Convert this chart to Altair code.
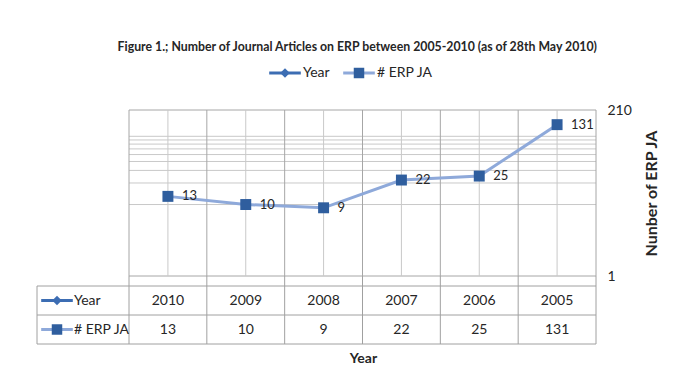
import altair as alt
import pandas as pd

# ---------------- data ----------------
years = ["2010", "2009", "2008", "2007", "2006", "2005"]
erp_ja = [13, 10, 9, 22, 25, 131]
series_names = ["Year", "# ERP JA"]
y_ticks = [1, 210]
y_minor = [10, 20, 30, 40, 50, 60, 70, 80, 90]
chart_title = "Figure 1.; Number of Journal Articles on ERP between 2005-2010 (as of 28th May 2010)"
y_title = "Nunber of ERP JA"
x_title = "Year"

# ---------------- style ----------------
FONT = "Lato"
LINE_LIGHT = "#8EA9DA"
MARKER_DARK = "#2F5E9E"
YEAR_BLUE = "#3C6DB3"
GRID_MAJOR = "#A6A6A6"
GRID_MINOR = "#C9C9C9"
TABLE_LINE = "#A0A0A0"
TEXT = "#262626"

n = len(years)
LEG = 92 / 77.83          # width of the table's legend column, in category units
W = 559
PLOT_H = 166
STRIP = 10 / 29           # strip between plot and table, in table-row units
TABLE_H = 68

xscale = alt.Scale(domain=[-LEG, n], nice=False, zero=False)
yscale = alt.Scale(type="log", domain=[y_ticks[0], y_ticks[-1]], nice=False)

pos = [i + 0.5 for i in range(n)]
pts = pd.DataFrame({"year": years, "val": erp_ja, "pos": pos})

# ---------------- plot area ----------------
hgrid = pd.DataFrame({
    "v": y_ticks + y_minor,
    "kind": ["major"] * len(y_ticks) + ["minor"] * len(y_minor),
    "x0": 0, "x1": n,
})
vgrid = pd.DataFrame({
    "x": list(range(n + 1)) + pos,
    "kind": ["major"] * (n + 1) + ["minor"] * n,
    "y0": y_ticks[0], "y1": y_ticks[-1],
})
grid_color = alt.Color("kind:N", scale=alt.Scale(domain=["major", "minor"], range=[GRID_MAJOR, GRID_MINOR]), legend=None)

yaxis = alt.Axis(orient="right", values=y_ticks, ticks=False, domain=False, grid=False,
                 labelPadding=11, labelFontSize=14, labelColor=TEXT, labelFlush=False,
                 labelOverlap=False, format="d",
                 title=y_title, titleAngle=270, titleFontWeight="bold", titleFontSize=16,
                 titlePadding=28, titleColor=TEXT)

h_rules = alt.Chart(hgrid).mark_rule(strokeWidth=1).encode(
    x=alt.X("x0:Q", scale=xscale, axis=None), x2="x1:Q",
    y=alt.Y("v:Q", scale=yscale, axis=yaxis), color=grid_color)
v_rules = alt.Chart(vgrid).mark_rule(strokeWidth=1).encode(
    x=alt.X("x:Q", scale=xscale, axis=None),
    y=alt.Y("y0:Q", scale=yscale, axis=None), y2="y1:Q", color=grid_color)

line = alt.Chart(pts).mark_line(color=LINE_LIGHT, strokeWidth=3).encode(
    x=alt.X("pos:Q", scale=xscale, axis=None),
    y=alt.Y("val:Q", scale=yscale, axis=None))
points = alt.Chart(pts).mark_point(shape="square", filled=True, size=120, color=MARKER_DARK, opacity=1).encode(
    x=alt.X("pos:Q", scale=xscale, axis=None),
    y=alt.Y("val:Q", scale=yscale, axis=None))
labels = alt.Chart(pts).mark_text(align="left", baseline="middle", dx=14, fontSize=13, color=TEXT).encode(
    x=alt.X("pos:Q", scale=xscale, axis=None),
    y=alt.Y("val:Q", scale=yscale, axis=None),
    text="val:Q")

plot = alt.layer(h_rules, v_rules, line, points, labels).resolve_axis(
    x="independent", y="independent").properties(width=W, height=PLOT_H)

# ---------------- top legend ----------------
ser = pd.DataFrame({"name": series_names, "row": [i + 0.5 for i in range(len(series_names))], "x0": -LEG})
line_colors = alt.Scale(domain=series_names, range=[YEAR_BLUE, LINE_LIGHT])
marker_colors = alt.Scale(domain=series_names, range=[YEAR_BLUE, MARKER_DARK])
marker_shapes = alt.Scale(domain=series_names, range=["diamond", "square"])
marker_sizes = alt.Scale(domain=series_names, range=[90, 110])

lx = alt.X("name:N", scale=alt.Scale(type="point", domain=series_names, range=[248, 322], padding=0), axis=None)
leg_seg = alt.Chart(ser).mark_point(shape="stroke", size=1000, strokeWidth=3, filled=False, opacity=1).encode(
    x=lx, y=alt.value(10), color=alt.Color("name:N", scale=line_colors, legend=None))
leg_mark = alt.Chart(ser).mark_point(filled=True, opacity=1).encode(
    x=lx, y=alt.value(10),
    color=alt.Color("name:N", scale=marker_colors, legend=None),
    shape=alt.Shape("name:N", scale=marker_shapes, legend=None),
    size=alt.Size("name:N", scale=marker_sizes, legend=None))
leg_txt = alt.Chart(ser).mark_text(align="left", baseline="middle", dx=18, fontSize=14, color=TEXT).encode(
    x=lx, y=alt.value(10), text="name:N")
legend = alt.layer(leg_seg, leg_mark, leg_txt).resolve_scale(color="independent").properties(width=W, height=20)

# ---------------- data table ----------------
tscale = alt.Scale(domain=[-STRIP, 2], reverse=True, nice=False, zero=False)
rows = [0.5, 1.5]
cells = pd.DataFrame({
    "pos": pos * 2,
    "row": [rows[0]] * n + [rows[1]] * n,
    "txt": years + [str(v) for v in erp_ja],
})
t_h = pd.DataFrame({"r": [0, 1, 2], "x0": -LEG, "x1": n})
t_v = pd.DataFrame({
    "x": [-LEG] + list(range(n + 1)) + list(range(n + 1)),
    "y0": [0] * (n + 2) + [-STRIP] * (n + 1),
    "y1": [2] * (n + 2) + [0] * (n + 1),
})
xaxis = alt.Axis(title=x_title, labels=False, ticks=False, domain=False, grid=False,
                 titleFontWeight="bold", titleFontSize=14, titlePadding=7,
                 titleX=326, titleColor=TEXT)
tab_h = alt.Chart(t_h).mark_rule(color=TABLE_LINE, strokeWidth=1).encode(
    x=alt.X("x0:Q", scale=xscale, axis=xaxis), x2="x1:Q",
    y=alt.Y("r:Q", scale=tscale, axis=None))
tab_v = alt.Chart(t_v).mark_rule(color=TABLE_LINE, strokeWidth=1).encode(
    x=alt.X("x:Q", scale=xscale, axis=None),
    y=alt.Y("y0:Q", scale=tscale, axis=None), y2="y1:Q")
tab_txt = alt.Chart(cells).mark_text(align="center", baseline="middle", fontSize=14, color=TEXT).encode(
    x=alt.X("pos:Q", scale=xscale, axis=None),
    y=alt.Y("row:Q", scale=tscale, axis=None),
    text="txt:N")
tab_seg = alt.Chart(ser).mark_point(shape="stroke", size=1000, strokeWidth=3, filled=False, opacity=1, xOffset=20).encode(
    x=alt.X("x0:Q", scale=xscale, axis=None), y=alt.Y("row:Q", scale=tscale, axis=None),
    color=alt.Color("name:N", scale=line_colors, legend=None))
tab_mark = alt.Chart(ser).mark_point(filled=True, opacity=1, xOffset=20).encode(
    x=alt.X("x0:Q", scale=xscale, axis=None), y=alt.Y("row:Q", scale=tscale, axis=None),
    color=alt.Color("name:N", scale=marker_colors, legend=None),
    shape=alt.Shape("name:N", scale=marker_shapes, legend=None),
    size=alt.Size("name:N", scale=marker_sizes, legend=None))
tab_name = alt.Chart(ser).mark_text(align="left", baseline="middle", dx=37, fontSize=14, color=TEXT).encode(
    x=alt.X("x0:Q", scale=xscale, axis=None), y=alt.Y("row:Q", scale=tscale, axis=None),
    text="name:N")
table = alt.layer(tab_h, tab_v, tab_txt, tab_seg, tab_mark, tab_name).resolve_scale(
    color="independent").resolve_axis(x="independent", y="independent").properties(width=W, height=TABLE_H)

chart = alt.vconcat(
    legend,
    alt.vconcat(plot, table, spacing=0, bounds="flush"),
    spacing=20,
    title=alt.TitleParams(chart_title, fontSize=12.3, fontWeight="bold", anchor="middle",
                          dx=10, offset=10, color=TEXT, font=FONT),
    padding={"left": 35, "top": 40, "right": 5, "bottom": 5},
).configure(font=FONT, background="white").configure_view(stroke=None)

chart.save("out.html", embed_options={"renderer": "svg", "actions": False})
